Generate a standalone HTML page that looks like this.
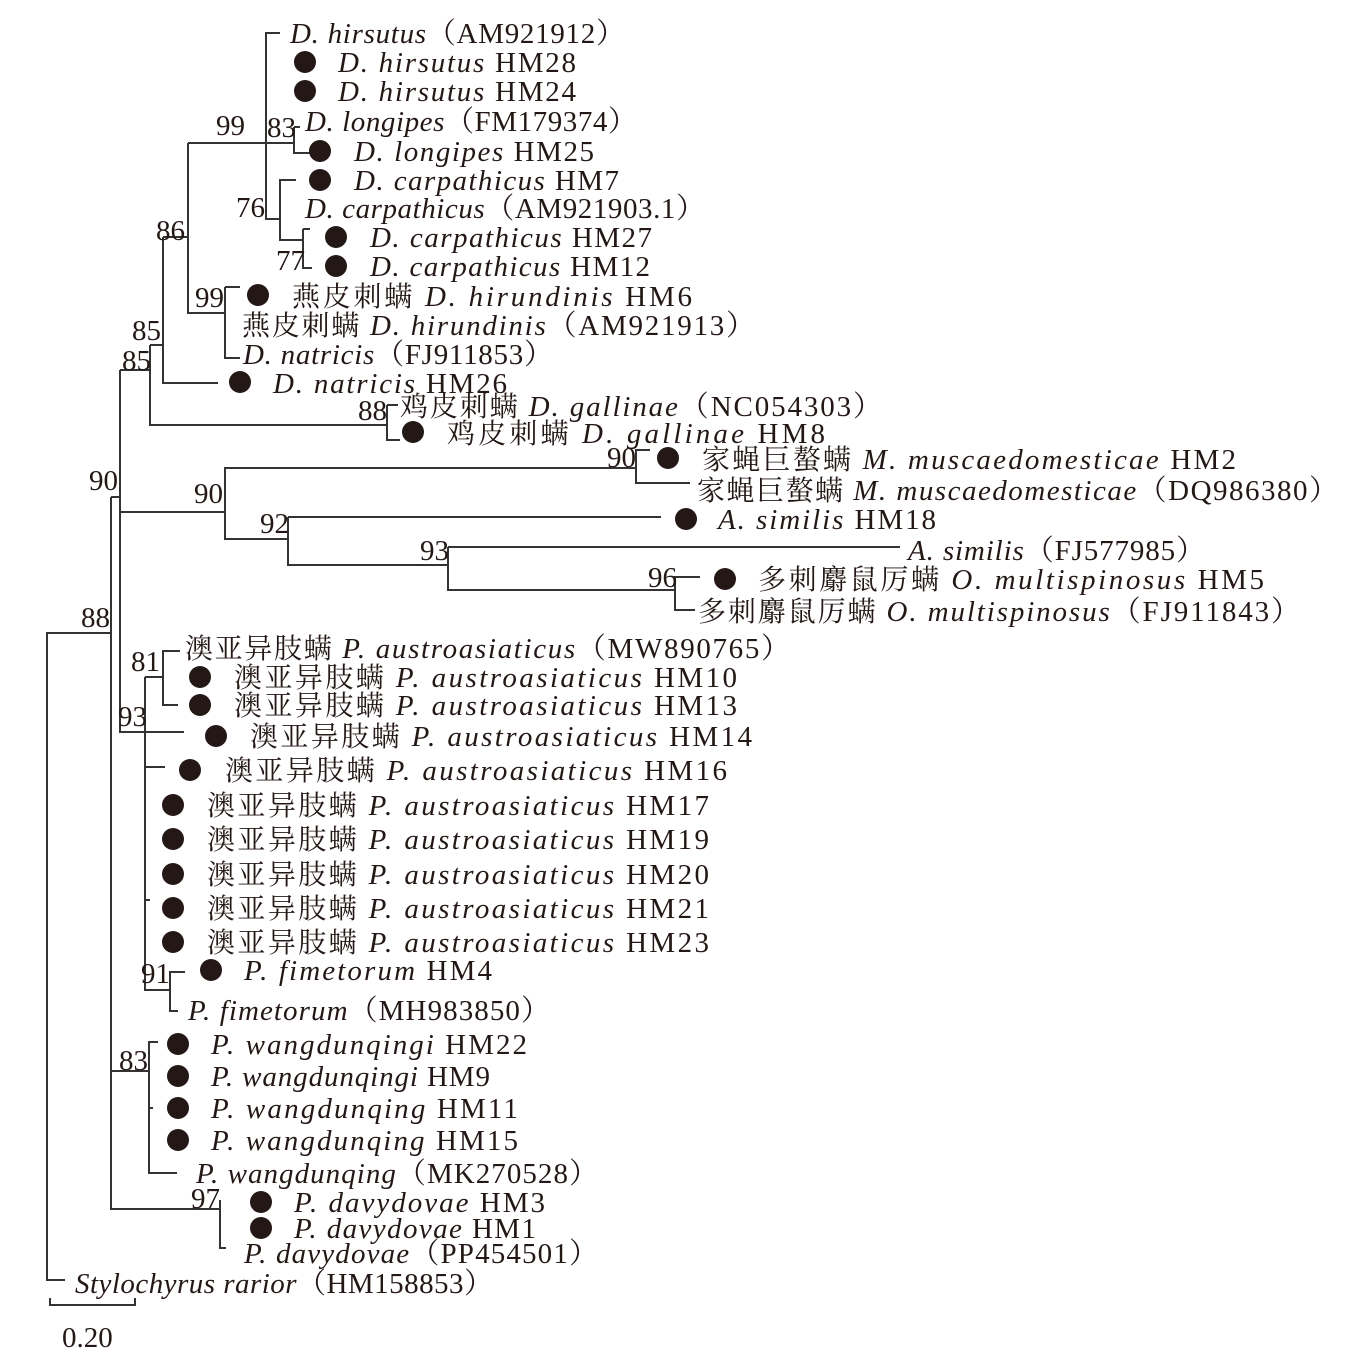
<!DOCTYPE html>
<html><head><meta charset="utf-8"><style>
html,body{margin:0;padding:0;background:#fff;}
svg{display:block}
text{font-family:"Liberation Serif","Noto Serif CJK SC",serif;font-size:29px;fill:#231815;}
.i{font-style:italic}
.c{font-family:"Noto Serif CJK SC","Liberation Serif",serif;font-size:28px}
.b text{font-size:29px}
</style></head><body>
<svg width="1357" height="1357" viewBox="0 0 1357 1357" xmlns="http://www.w3.org/2000/svg">
<g stroke="#333" stroke-width="2" fill="none">
<path d="M65,1280 H47 V633 H111"/>
<path d="M111,497 V1210"/>
<path d="M111,497 H120"/>
<path d="M120,370 V732 H184"/>
<path d="M120,370 H150"/>
<path d="M150,345 V425 H387"/>
<path d="M150,345 H163"/>
<path d="M387,405 V440 H400"/>
<path d="M387,405 H398"/>
<path d="M163,237 V383 H218"/>
<path d="M163,237 H188"/>
<path d="M188,143 V313 H225"/>
<path d="M188,143 H294"/>
<path d="M225,287 H240 M225,287 V358 H240"/>
<path d="M294,127 V153 H310 M294,127 H300"/>
<path d="M280,33 H266 V219 H280"/>
<path d="M296,180 H280 V240 H303"/>
<path d="M303,229 V268 H312 M303,229 H310"/>
<path d="M120,512 H225 V468 H636"/>
<path d="M650,450 H636 V483 H690"/>
<path d="M225,468 V539 H288"/>
<path d="M288,517 V565 H448 M288,517 H661"/>
<path d="M448,547 V590 H675 M448,547 H900"/>
<path d="M700,577 H675 V610 H695"/>
<path d="M145,677 V990 H170"/>
<path d="M145,677 H163"/>
<path d="M180,651 H163 V705 H178"/>
<path d="M145,767 H165"/>
<path d="M145,900 H150"/>
<path d="M185,972 H170 V1011 H178"/>
<path d="M111,1071 H149"/>
<path d="M158,1042 H149 V1173 H177"/>
<path d="M149,1108 H153"/>
<path d="M111,1209 H220 V1200 M220,1209 V1248 H226"/>
<path d="M50,1298 V1305 H135 V1298"/>
</g>
<g fill="#231815">
<circle cx="305" cy="62" r="11"/><circle cx="305" cy="91" r="11"/>
<circle cx="320" cy="151" r="11"/><circle cx="320" cy="180" r="11"/>
<circle cx="336" cy="237" r="11"/><circle cx="336" cy="266" r="11"/>
<circle cx="258" cy="295" r="11"/><circle cx="240" cy="382" r="11"/>
<circle cx="413" cy="432" r="11"/><circle cx="668" cy="458" r="11"/>
<circle cx="686" cy="519" r="11"/><circle cx="725" cy="579" r="11"/>
<circle cx="200" cy="677" r="11"/><circle cx="200" cy="705" r="11"/>
<circle cx="216" cy="736" r="11"/><circle cx="190" cy="770" r="11"/>
<circle cx="173" cy="805" r="11"/><circle cx="173" cy="839" r="11"/>
<circle cx="173" cy="874" r="11"/><circle cx="173" cy="908" r="11"/>
<circle cx="173" cy="942" r="11"/><circle cx="211" cy="970" r="11"/>
<circle cx="178" cy="1044" r="11"/><circle cx="178" cy="1076" r="11"/>
<circle cx="178" cy="1108" r="11"/><circle cx="178" cy="1140" r="11"/>
<circle cx="261" cy="1202" r="11"/><circle cx="261" cy="1228" r="11"/>
</g>
<g>
<text x="290" y="43" textLength="335" lengthAdjust="spacing"><tspan class="i">D.  hirsutus</tspan>（AM921912）</text>
<text x="338" y="72" textLength="238" lengthAdjust="spacing"><tspan class="i">D.  hirsutus</tspan>  HM28</text>
<text x="338" y="101" textLength="238" lengthAdjust="spacing"><tspan class="i">D.  hirsutus</tspan>  HM24</text>
<text x="305" y="131" textLength="332" lengthAdjust="spacing"><tspan class="i">D.  longipes</tspan>（FM179374）</text>
<text x="354" y="161" textLength="240" lengthAdjust="spacing"><tspan class="i">D.  longipes</tspan>  HM25</text>
<text x="354" y="190" textLength="265" lengthAdjust="spacing"><tspan class="i">D.  carpathicus</tspan>  HM7</text>
<text x="305" y="218" textLength="400" lengthAdjust="spacing"><tspan class="i">D.  carpathicus</tspan>（AM921903.1）</text>
<text x="370" y="247" textLength="282" lengthAdjust="spacing"><tspan class="i">D.  carpathicus</tspan>  HM27</text>
<text x="370" y="276" textLength="280" lengthAdjust="spacing"><tspan class="i">D.  carpathicus</tspan>  HM12</text>
<text x="292" y="306" textLength="400" lengthAdjust="spacing"><tspan class="c">燕皮刺螨</tspan>  <tspan class="i">D.  hirundinis</tspan>  HM6</text>
<text x="242" y="335" textLength="513" lengthAdjust="spacing"><tspan class="c">燕皮刺螨</tspan>  <tspan class="i">D.  hirundinis</tspan>（AM921913）</text>
<text x="243" y="364" textLength="310" lengthAdjust="spacing"><tspan class="i">D.  natricis</tspan>（FJ911853）</text>
<text x="273" y="393" textLength="234" lengthAdjust="spacing"><tspan class="i">D.  natricis</tspan>  HM26</text>
<text x="400" y="416" textLength="482" lengthAdjust="spacing"><tspan class="c">鸡皮刺螨</tspan>  <tspan class="i">D.  gallinae</tspan>（NC054303）</text>
<text x="447" y="443" textLength="378" lengthAdjust="spacing"><tspan class="c">鸡皮刺螨</tspan>  <tspan class="i">D.  gallinae</tspan>  HM8</text>
<text x="702" y="469" textLength="534" lengthAdjust="spacing"><tspan class="c">家蝇巨螯螨</tspan>  <tspan class="i">M.  muscaedomesticae</tspan>  HM2</text>
<text x="697" y="500" textLength="641" lengthAdjust="spacing"><tspan class="c">家蝇巨螯螨</tspan>  <tspan class="i">M.  muscaedomesticae</tspan>（DQ986380）</text>
<text x="718" y="529" textLength="218" lengthAdjust="spacing"><tspan class="i">A.  similis</tspan>  HM18</text>
<text x="908" y="560" textLength="297" lengthAdjust="spacing"><tspan class="i">A.  similis</tspan>（FJ577985）</text>
<text x="758" y="589" textLength="506" lengthAdjust="spacing"><tspan class="c">多刺麝鼠厉螨</tspan>  <tspan class="i">O.  multispinosus</tspan>  HM5</text>
<text x="698" y="621" textLength="602" lengthAdjust="spacing"><tspan class="c">多刺麝鼠厉螨</tspan>  <tspan class="i">O.  multispinosus</tspan>（FJ911843）</text>
<text x="185" y="658" textLength="605" lengthAdjust="spacing"><tspan class="c">澳亚异肢螨</tspan>  <tspan class="i">P.  austroasiaticus</tspan>（MW890765）</text>
<text x="234" y="687" textLength="503" lengthAdjust="spacing"><tspan class="c">澳亚异肢螨</tspan>  <tspan class="i">P.  austroasiaticus</tspan>  HM10</text>
<text x="234" y="715" textLength="503" lengthAdjust="spacing"><tspan class="c">澳亚异肢螨</tspan>  <tspan class="i">P.  austroasiaticus</tspan>  HM13</text>
<text x="250" y="746" textLength="502" lengthAdjust="spacing"><tspan class="c">澳亚异肢螨</tspan>  <tspan class="i">P.  austroasiaticus</tspan>  HM14</text>
<text x="225" y="780" textLength="502" lengthAdjust="spacing"><tspan class="c">澳亚异肢螨</tspan>  <tspan class="i">P.  austroasiaticus</tspan>  HM16</text>
<text x="207" y="815" textLength="502" lengthAdjust="spacing"><tspan class="c">澳亚异肢螨</tspan>  <tspan class="i">P.  austroasiaticus</tspan>  HM17</text>
<text x="207" y="849" textLength="502" lengthAdjust="spacing"><tspan class="c">澳亚异肢螨</tspan>  <tspan class="i">P.  austroasiaticus</tspan>  HM19</text>
<text x="207" y="884" textLength="502" lengthAdjust="spacing"><tspan class="c">澳亚异肢螨</tspan>  <tspan class="i">P.  austroasiaticus</tspan>  HM20</text>
<text x="207" y="918" textLength="502" lengthAdjust="spacing"><tspan class="c">澳亚异肢螨</tspan>  <tspan class="i">P.  austroasiaticus</tspan>  HM21</text>
<text x="207" y="952" textLength="502" lengthAdjust="spacing"><tspan class="c">澳亚异肢螨</tspan>  <tspan class="i">P.  austroasiaticus</tspan>  HM23</text>
<text x="244" y="980" textLength="248" lengthAdjust="spacing"><tspan class="i">P.  fimetorum</tspan>  HM4</text>
<text x="188" y="1020" textLength="362" lengthAdjust="spacing"><tspan class="i">P.  fimetorum</tspan>（MH983850）</text>
<text x="211" y="1054" textLength="316" lengthAdjust="spacing"><tspan class="i">P.  wangdunqingi</tspan>  HM22</text>
<text x="211" y="1086" textLength="279" lengthAdjust="spacing"><tspan class="i">P.  wangdunqingi</tspan>  HM9</text>
<text x="211" y="1118" textLength="307" lengthAdjust="spacing"><tspan class="i">P.  wangdunqing</tspan>  HM11</text>
<text x="211" y="1150" textLength="307" lengthAdjust="spacing"><tspan class="i">P.  wangdunqing</tspan>  HM15</text>
<text x="196" y="1183" textLength="402" lengthAdjust="spacing"><tspan class="i">P.  wangdunqing</tspan>（MK270528）</text>
<text x="294" y="1212" textLength="251" lengthAdjust="spacing"><tspan class="i">P.  davydovae</tspan>  HM3</text>
<text x="294" y="1238" textLength="242" lengthAdjust="spacing"><tspan class="i">P.  davydovae</tspan>  HM1</text>
<text x="244" y="1263" textLength="354" lengthAdjust="spacing"><tspan class="i">P.  davydovae</tspan>（PP454501）</text>
<text x="75" y="1293" textLength="418" lengthAdjust="spacing"><tspan class="i">Stylochyrus  rarior</tspan>（HM158853）</text>
<text x="62" y="1347">0.20</text>
</g>
<g text-anchor="end" class="b">
<text x="245" y="135">99</text>
<text x="296" y="137">83</text>
<text x="265" y="217">76</text>
<text x="305" y="270">77</text>
<text x="185" y="240">86</text>
<text x="224" y="307">99</text>
<text x="161" y="340">85</text>
<text x="151" y="370">85</text>
<text x="387" y="420">88</text>
<text x="636" y="467">90</text>
<text x="118" y="490">90</text>
<text x="223" y="503">90</text>
<text x="289" y="533">92</text>
<text x="449" y="560">93</text>
<text x="677" y="587">96</text>
<text x="110" y="627">88</text>
<text x="160" y="671">81</text>
<text x="147" y="726">93</text>
<text x="170" y="983">91</text>
<text x="148" y="1070">83</text>
<text x="220" y="1208">97</text>
</g>
</svg>
</body></html>
